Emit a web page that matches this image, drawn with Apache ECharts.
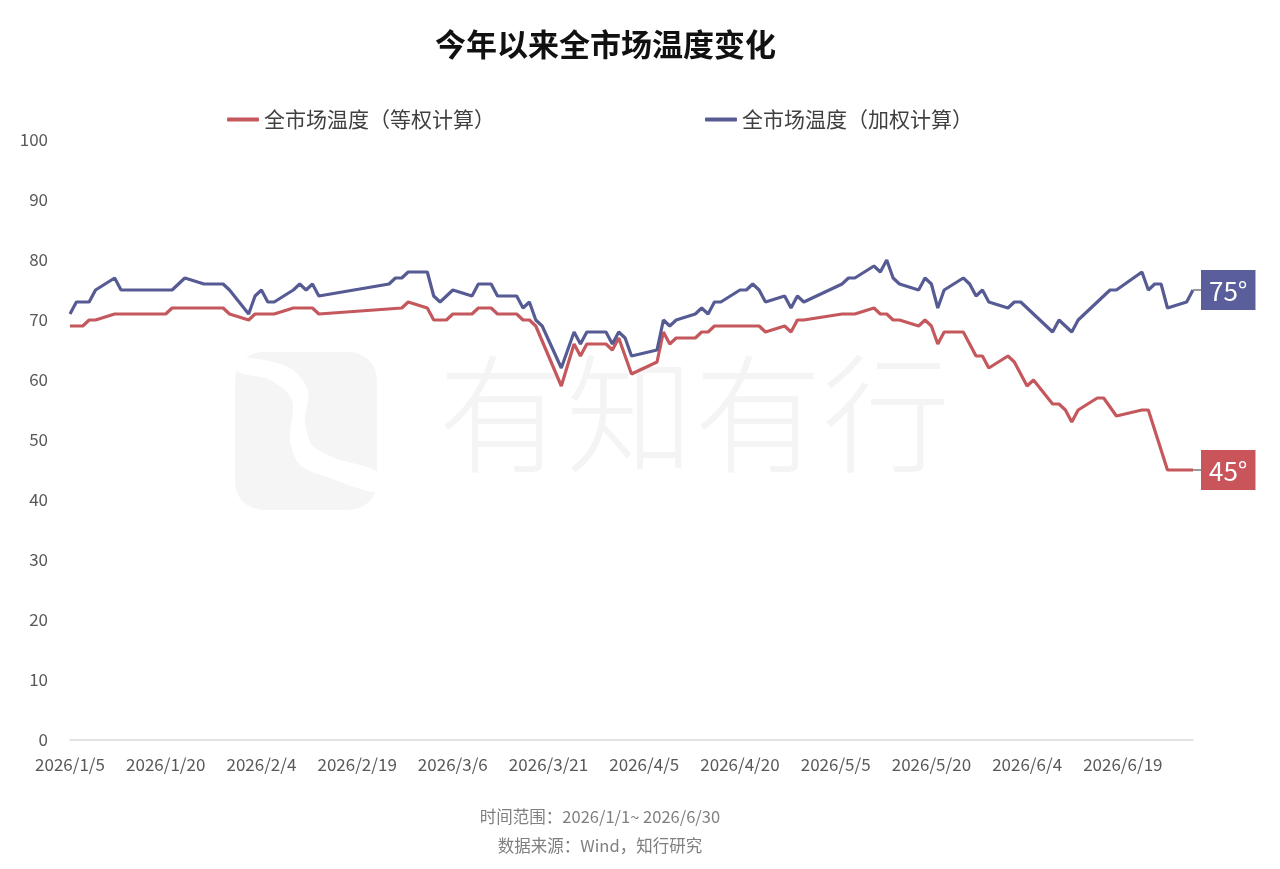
<!DOCTYPE html>
<html>
<head>
<meta charset="utf-8">
<script src="https://cdn.jsdelivr.net/npm/echarts@6/dist/echarts.min.js"></script>
<style>
html,body{margin:0;padding:0;background:#fff;}
#chart{width:1280px;height:869px;}
</style>
</head>
<body>
<div id="chart"></div>
<script>
// ---- data ----
const startDate = [2026, 1, 5];
const endDate = [2026, 6, 30];
const labelEvery = 15; // x tick labels every 15 days: 1/5, 1/20, 2/4 ...
const seriesNames = ['全市场温度（等权计算）', '全市场温度（加权计算）'];

const equalWeighted = [
  ["1/5",69],["1/7",69],["1/8",70],["1/9",70],["1/12",71],["1/20",71],["1/21",72],["1/29",72],["1/30",71],
  ["2/2",70],["2/3",71],["2/6",71],["2/9",72],["2/12",72],["2/13",71],["2/26",72],["2/27",73],
  ["3/2",72],["3/3",70],["3/5",70],["3/6",71],["3/9",71],["3/10",72],["3/12",72],["3/13",71],["3/16",71],
  ["3/17",70],["3/18",70],["3/19",69],["3/23",59],["3/25",66],["3/26",64],["3/27",66],["3/30",66],["3/31",65],
  ["4/1",67],["4/3",61],["4/7",63],["4/8",68],["4/9",66],["4/10",67],["4/13",67],["4/14",68],["4/15",68],
  ["4/16",69],["4/23",69],["4/24",68],["4/27",69],["4/28",68],["4/29",70],["4/30",70],
  ["5/6",71],["5/8",71],["5/11",72],["5/12",71],["5/13",71],["5/14",70],["5/15",70],["5/18",69],["5/19",70],
  ["5/20",69],["5/21",66],["5/22",68],["5/25",68],["5/27",64],["5/28",64],["5/29",62],
  ["6/1",64],["6/2",63],["6/4",59],["6/5",60],["6/8",56],["6/9",56],["6/10",55],["6/11",53],["6/12",55],
  ["6/15",57],["6/16",57],["6/18",54],["6/22",55],["6/23",55],["6/26",45],["6/30",45]
];

const capWeighted = [
  ["1/5",71],["1/6",73],["1/8",73],["1/9",75],["1/12",77],["1/13",75],["1/21",75],["1/23",77],["1/26",76],
  ["1/29",76],["1/30",75],["2/2",71],["2/3",74],["2/4",75],["2/5",73],["2/6",73],["2/9",75],["2/10",76],
  ["2/11",75],["2/12",76],["2/13",74],["2/24",76],["2/25",77],["2/26",77],["2/27",78],
  ["3/2",78],["3/3",74],["3/4",73],["3/6",75],["3/9",74],["3/10",76],["3/12",76],["3/13",74],["3/16",74],
  ["3/17",72],["3/18",73],["3/19",70],["3/20",69],["3/23",62],["3/25",68],["3/26",66],["3/27",68],["3/30",68],
  ["3/31",66],["4/1",68],["4/2",67],["4/3",64],["4/7",65],["4/8",70],["4/9",69],["4/10",70],["4/13",71],
  ["4/14",72],["4/15",71],["4/16",73],["4/17",73],["4/20",75],["4/21",75],["4/22",76],["4/23",75],["4/24",73],
  ["4/27",74],["4/28",72],["4/29",74],["4/30",73],["5/6",76],["5/7",77],["5/8",77],["5/11",79],["5/12",78],
  ["5/13",80],["5/14",77],["5/15",76],["5/18",75],["5/19",77],["5/20",76],["5/21",72],["5/22",75],["5/25",77],
  ["5/26",76],["5/27",74],["5/28",75],["5/29",73],["6/1",72],["6/2",73],["6/3",73],["6/8",68],["6/9",70],
  ["6/11",68],["6/12",70],["6/17",75],["6/18",75],["6/22",78],["6/23",75],["6/24",76],["6/25",76],["6/26",72],
  ["6/29",73],["6/30",75]
];

const yTicks = { min: 0, max: 100, interval: 10 };
const footnotes = ['时间范围：2026/1/1~ 2026/6/30', '数据来源：Wind，知行研究'];

// ---- build category list (every calendar day) ----
const categories = [];
{
  const d = new Date(startDate[0], startDate[1] - 1, startDate[2]);
  const e = new Date(endDate[0], endDate[1] - 1, endDate[2]);
  while (d <= e) {
    categories.push(d.getFullYear() + '/' + (d.getMonth() + 1) + '/' + d.getDate());
    d.setDate(d.getDate() + 1);
  }
}
function toSeries(pairs) {
  const arr = categories.map(() => null);
  pairs.forEach(([md, v]) => {
    const idx = categories.indexOf('2026/' + md);
    if (idx >= 0) arr[idx] = v;
  });
  return arr;
}

const RED = '#C4585D';
const BLUE = '#565B94';
const FONT = '"Noto Sans CJK SC", "Noto Sans", sans-serif';

const chart = echarts.init(document.getElementById('chart'), null, { renderer: 'canvas' });

function endLbl(bg) {
  return {
    show: true,
    formatter: p => '{l|}{b|' + p.value + '°}',
    distance: 0,
    rich: {
      l: { width: 8, height: 2, backgroundColor: '#9a9a9a' },
      b: {
        color: '#fff',
        backgroundColor: bg,
        fontSize: 26,
        fontFamily: FONT,
        lineHeight: 30,
        padding: [8, 8, 6, 8]
      }
    }
  };
}

chart.setOption({
  backgroundColor: '#fff',
  textStyle: { fontFamily: FONT },
  animation: false,
  title: {
    text: '今年以来全市场温度变化',
    left: 430,
    top: 24,
    textStyle: { fontSize: 31, fontWeight: 'bold', color: '#111', fontFamily: FONT }
  },
  legend: {
    left: 222,
    top: 104,
    itemGap: 210,
    itemWidth: 32,
    itemHeight: 4,
    icon: 'roundRect',
    textStyle: { fontSize: 21, color: '#404040', fontFamily: FONT },
    data: seriesNames
  },
  grid: { left: 70, right: 87, top: 140, bottom: 129, containLabel: false },
  xAxis: {
    type: 'category',
    data: categories,
    boundaryGap: false,
    axisLine: { show: true, lineStyle: { color: '#d9d9d9', width: 1.5 } },
    axisTick: { show: false },
    axisLabel: {
      interval: labelEvery - 1,
      color: '#595959',
      fontSize: 17,
      margin: 16,
      fontFamily: FONT
    },
    splitLine: { show: false }
  },
  yAxis: {
    type: 'value',
    min: yTicks.min,
    max: yTicks.max,
    interval: yTicks.interval,
    axisLine: { show: false },
    axisTick: { show: false },
    splitLine: { show: false },
    axisLabel: { color: '#595959', fontSize: 17, margin: 22, fontFamily: FONT }
  },
  graphic: [
    {
      type: 'rect', z: -10, silent: true,
      shape: { x: 235, y: 352, width: 142, height: 158, r: 28 },
      style: { fill: '#f5f5f5' }
    },
    {
      type: 'polygon', z: -9, silent: true,
      shape: {
        points: [[238, 372], [270, 380], [292, 400], [290, 440], [300, 465], [330, 478], [377, 492],
                 [377, 472], [335, 458], [312, 445], [305, 420], [308, 390], [290, 368], [250, 358], [238, 362]],
        smooth: 0.3
      },
      style: { fill: '#ffffff' }
    },
    {
      type: 'text', z: -10, silent: true,
      left: 438, top: 350,
      style: { text: '有知有行', fill: '#f4f4f4', font: '300 128px "Noto Sans CJK SC"' }
    },
    {
      type: 'text', silent: true,
      x: 600, y: 817,
      style: { text: footnotes[0], fill: '#7f7f7f', font: '16.5px ' + FONT, textAlign: 'center', textVerticalAlign: 'middle' }
    },
    {
      type: 'text', silent: true,
      x: 600, y: 846,
      style: { text: footnotes[1], fill: '#7f7f7f', font: '16.5px ' + FONT, textAlign: 'center', textVerticalAlign: 'middle' }
    }
  ],
  series: [
    {
      name: seriesNames[0],
      type: 'line',
      data: toSeries(equalWeighted),
      connectNulls: true,
      showSymbol: false,
      symbol: 'none',
      lineStyle: { color: RED, width: 3.2 },
      itemStyle: { color: RED },
      endLabel: endLbl('#C9545A'),
      z: 3
    },
    {
      name: seriesNames[1],
      type: 'line',
      data: toSeries(capWeighted),
      connectNulls: true,
      showSymbol: false,
      symbol: 'none',
      lineStyle: { color: BLUE, width: 3.2 },
      itemStyle: { color: BLUE },
      endLabel: endLbl('#5A5E9A'),
      z: 4
    }
  ]
});
</script>
</body>
</html>
